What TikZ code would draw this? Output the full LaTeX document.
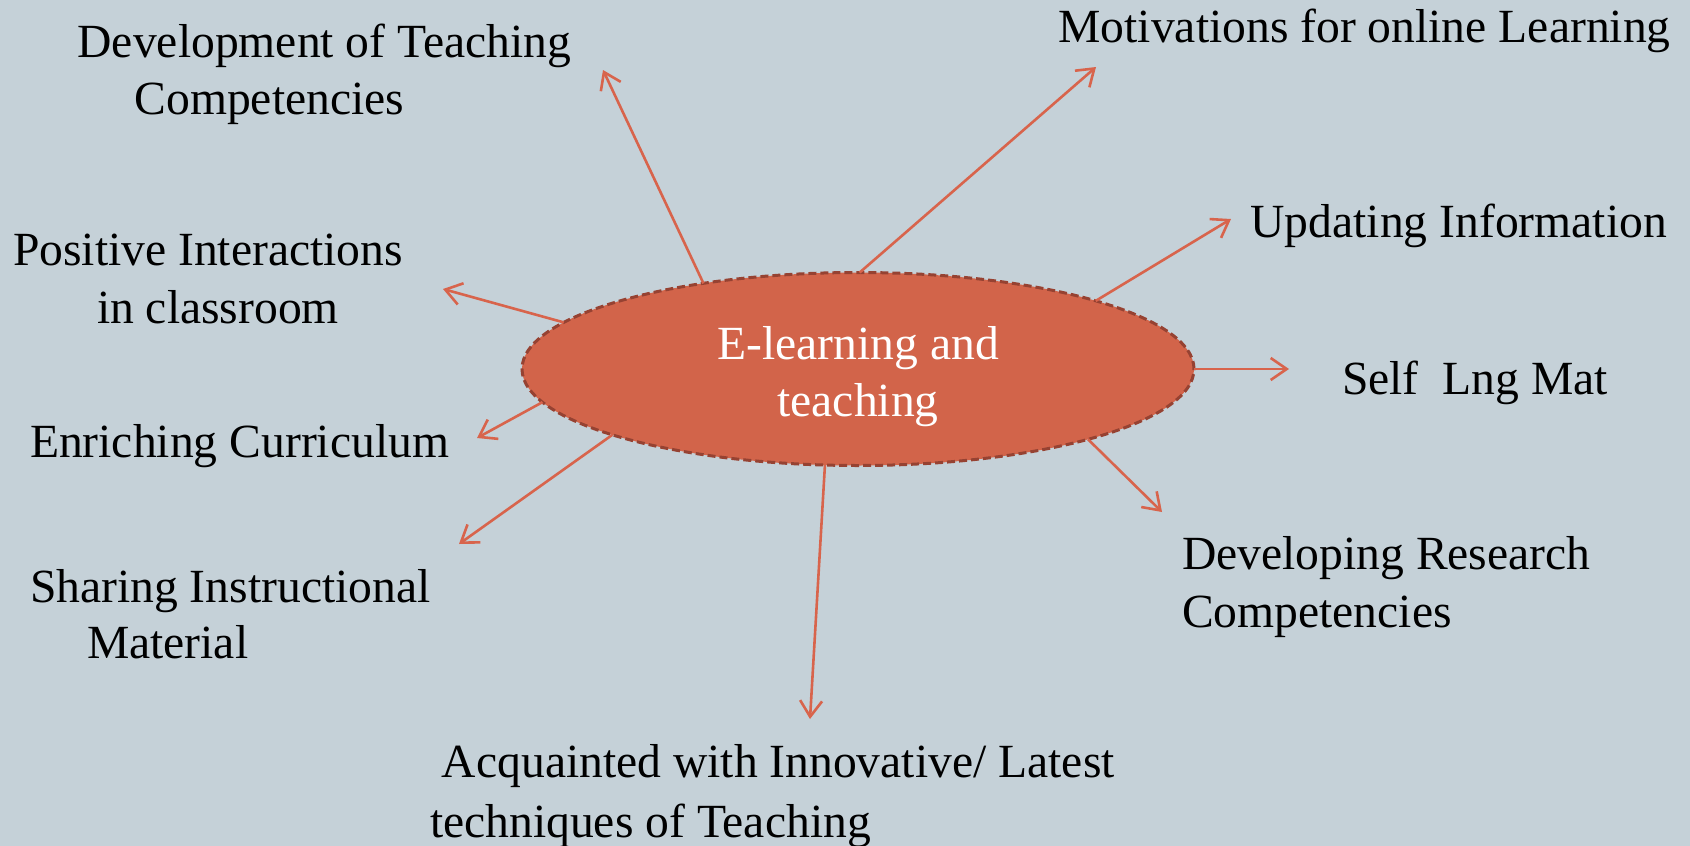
\documentclass[tikz,border=0pt]{standalone}
\usepackage{fontspec}
\setmainfont{Liberation Serif}
\usetikzlibrary{shapes.geometric,arrows.meta}
\definecolor{bgcol}{RGB}{197,209,216}
\definecolor{ellfill}{RGB}{210,100,74}
\definecolor{ellline}{RGB}{150,66,50}
\definecolor{arrcol}{RGB}{216,100,76}
\newcommand{\lblfont}{\fontsize{47.6pt}{57.5pt}\selectfont}
\tikzset{
  lbl/.style={anchor=base west, inner sep=0pt, outer sep=0pt, text=black, font=\lblfont},
  hub/.style={ellipse, fill=ellfill, draw=ellline, line width=3pt, dash pattern=on 8pt off 4pt,
    minimum width=672pt, minimum height=193pt, inner sep=0pt, outer sep=0pt},
  hubtext/.style={text=white, font=\lblfont, align=center, inner sep=0pt},
  arr/.style={draw=arrcol, line width=2.6pt, -{Straight Barb[length=16pt,width=22pt,line width=2.6pt]}}
}
\begin{document}
\begin{tikzpicture}[x=1pt,y=-1pt]
\fill[bgcol] (0,0) rectangle (1690,846);
\useasboundingbox (0,0) rectangle (1690,846);

% labels
\node[lbl] (dev1) at (77.6,57) {Development of Teaching};
\node[lbl] (dev2) at (134.5,114) {Competencies};
\node[lbl] (mot) at (1058.5,42) {Motivations for online Learning};
\node[lbl] (upd) at (1250.5,237) {Updating Information};
\node[lbl] (self) at (1342,394) {Self\ \ Lng Mat};
\node[lbl] (res1) at (1182,569) {Developing Research};
\node[lbl] (res2) at (1182,627) {Competencies};
\node[lbl] (acq1) at (430,777) {\ Acquainted with Innovative/ Latest};
\node[lbl] (acq2) at (430,837) {techniques of Teaching};
\node[lbl] (pos1) at (13,265.5) {Positive Interactions};
\node[lbl] (pos2) at (97,323) {in classroom};
\node[lbl] (enr) at (30,457.5) {Enriching Curriculum};
\node[lbl] (sha1) at (30,602) {Sharing Instructional};
\node[lbl] (sha2) at (87,658.5) {Material};

% arrow ends
\coordinate (ta) at (603,70);
\coordinate (tb) at (1096,67);
\coordinate (tc) at (1231,219);
\coordinate (td) at (1289,369);
\coordinate (te) at (1162,512);
\coordinate (tf) at (810,719);
\coordinate (tg) at (459,544);
\coordinate (th) at (477,438);
\coordinate (ti) at (443,289);

% hub
\node[hub] (e) at (858,369) {};
\node[hubtext] (etext) at (858,376.5) {E-learning and\\teaching};

% connectors
\draw[arr] (e.151) -- (ta);
\draw[arr] (e.89) -- (tb);
\draw[arr] (e.16) -- (tc);
\draw[arr] (e.0) -- (td);
\draw[arr] (e.343) -- (te);
\draw[arr] (e.251) -- (tf);
\draw[arr] (e.195) -- (tg);
\draw[arr] (e.186) -- (th);
\draw[arr] (e.171) -- (ti);
\end{tikzpicture}
\end{document}
